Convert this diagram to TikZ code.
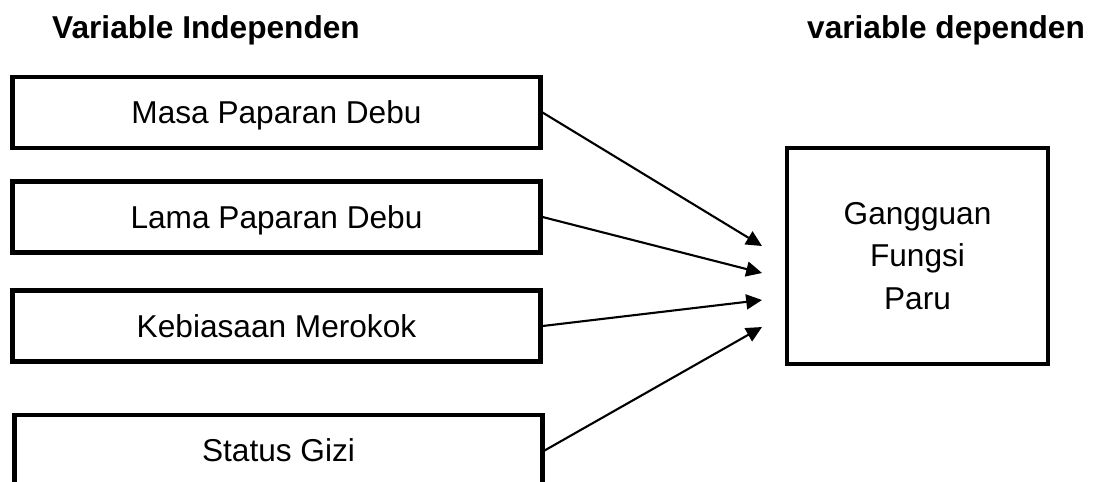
\documentclass[tikz,border=0pt]{standalone}
\usepackage{fontspec}
\setmainfont{Liberation Sans}
\usetikzlibrary{arrows.meta, positioning}

\begin{document}
\begin{tikzpicture}[x=0.02cm, y=-0.02cm,
        varbox/.style={draw, line width=2.4pt, minimum width=10.56cm, minimum height=1.42cm, inner sep=0pt, text depth=0pt, font=\fontsize{18}{24}\selectfont},
        head/.style={font=\bfseries\fontsize{18}{24}\selectfont, anchor=base},
        arr/.style={-{Triangle[length=9pt, width=8.5pt]}, line width=1.2pt}]
        \useasboundingbox (0,0) rectangle (1098,481);
        \clip (0,0) rectangle (1098,481);

        \node[head] (hind) at (206,38) {Variable Independen};
        \node[head] (hdep) at (946,38) {variable dependen};

        \node[varbox] (masa)  at (276.5,112.5) {Masa Paparan Debu};
        \node[varbox] (lama)  at (276.5,217)   {Lama Paparan Debu};
        \node[varbox] (rokok) at (276.5,326)   {Kebiasaan Merokok};
        \node[varbox] (gizi)  at (278.5,450.5) {Status Gizi};

        \node[varbox, minimum width=5.22cm, minimum height=4.32cm, text depth=, align=center] (paru) at (917.5,256) {Gangguan\\Fungsi\\Paru};

        % ujung panah
        \coordinate (t1) at (762,246);
        \coordinate (t2) at (762,273);
        \coordinate (t3) at (762,300);
        \coordinate (t4) at (762,327);

        \path[arr]
        (masa.east)  edge (t1)
        (lama.east)  edge (t2)
        (rokok.east) edge (t3)
        (gizi.east)  edge (t4);
    \end{tikzpicture}
\end{document}
